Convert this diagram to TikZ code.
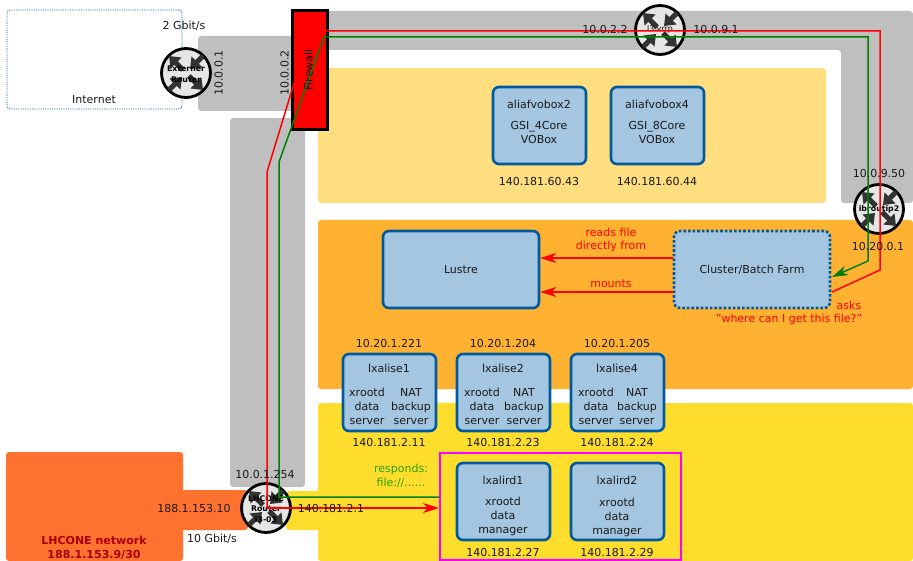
\documentclass[tikz,border=0pt]{standalone}
\usepackage{fontspec}
\setmainfont{DejaVu Sans}
\usetikzlibrary{arrows.meta}
\definecolor{netgray}{HTML}{BFBFBF}
\definecolor{lightyel}{HTML}{FEDE7E}
\definecolor{orng}{HTML}{FFB231}
\definecolor{yel}{HTML}{FFDD2C}
\definecolor{lhc}{HTML}{FF7230}
\definecolor{boxfill}{HTML}{A4C6E0}
\definecolor{boxline}{HTML}{005B9E}
\definecolor{txtcol}{HTML}{1A1A1A}
\definecolor{rtgreen}{HTML}{008000}
\definecolor{respgreen}{HTML}{2CA000}
\definecolor{darkred}{HTML}{AA0000}
\definecolor{pink}{HTML}{FF00FF}
\definecolor{iconfill}{HTML}{E6E6E6}
\definecolor{icondark}{HTML}{333333}
\tikzset{
  zone/.style={rounded corners=3pt,draw=none},
  hostbox/.style={draw=boxline,fill=boxfill,line width=2.6pt,rounded corners=6pt},
  hostdots/.style={hostbox,dash pattern=on 2.6pt off 2pt},
  txt/.style={inner sep=0pt,outer sep=0pt,text=txtcol,font=\fontsize{11}{14}\selectfont,text height=9.5pt,text depth=0.5pt},
  redtxt/.style={txt,text=red},
  grntxt/.style={txt,text=respgreen},
  rtrtxt/.style={inner sep=0pt,text=black,font=\fontsize{7.8}{10.5}\selectfont\bfseries,align=center},
  rtrcirc/.style={circle,draw=black,fill=iconfill,line width=2.8pt,minimum size=49pt,inner sep=0pt},
  iconarrow/.style={draw=icondark,line width=5pt,-{Triangle[length=10pt,width=15pt]}},
  routeR/.style={draw=red,line width=1.5pt},
  routeG/.style={draw=rtgreen,line width=1.5pt},
  flowR/.style={draw=red,line width=2pt,-{Stealth[length=16pt,width=10pt,inset=5pt]}},
  flowG/.style={draw=rtgreen,line width=1.5pt,-{Stealth[length=16pt,width=10pt,inset=5pt]}}
}
\newcommand{\routernode}[2]{%
  \node[rtrcirc] (#1) at (#2) {};
  \draw[iconarrow] (#1.center)++(-3,-3) -- ++(-14,-14);
  \draw[iconarrow] (#1.center)++(17,-17) -- ++(-13,13);
  \draw[iconarrow] (#1.center)++(-17,17) -- ++(13,-13);
  \draw[iconarrow] (#1.center)++(3,3) -- ++(14,14);
}
\begin{document}
\begin{tikzpicture}[x=1pt,y=-1pt]
\useasboundingbox (0,0) rectangle (913,561);
% network zones
\fill[netgray,zone] (198,36) rectangle (300,111);
\fill[netgray,zone] (230,118) rectangle (305,487);
\fill[netgray,zone] (320,11) -- (913,11) -- (913,203) -- (841,203) -- (841,50) -- (320,50) -- cycle;
\fill[lightyel,zone] (318,68) rectangle (826,203);
\fill[orng,zone] (318,220) rectangle (913,389);
\fill[yel,zone] (318,403) rectangle (913,561);
\fill[yel,zone] (286,491) rectangle (330,530);
\fill[lhc,zone] (6,452) rectangle (183,561);
\fill[lhc,zone] (175,490) rectangle (248,530);
% internet
\node[draw=boxline,densely dotted,line width=0.8pt,rounded corners=3pt,minimum width=175pt,minimum height=99pt,inner sep=0pt] (inet) at (94.5,59.5) {};
% routers
\routernode{extr}{186,73}
\routernode{vrrp}{660,30}
\routernode{ibr}{879,209}
\routernode{lhcr}{266,508}
\node[rtrtxt] (extrT) at (186,74) {Externer\\Router};
\node[rtrtxt,font=\fontsize{7.8}{10.5}\selectfont] (vrrpT) at (660,29) {l3-vrrp};
\node[rtrtxt] (ibrT) at (879,209) {ibroutip2};
\node[rtrtxt] (lhcrT) at (266,509) {LHCONE\\Router\\l3-03};
% firewall
\node[draw=black,fill=red,line width=2.8pt,minimum width=35pt,minimum height=119pt,inner sep=0pt] (fw) at (310,70) {};
\node[txt,text=black,rotate=90] (fwT) at (308,70) {Firewall};
% hosts
\node[hostbox,minimum width=93pt,minimum height=77pt] (vb2) at (539.5,125.5) {};
\node[hostbox,minimum width=93pt,minimum height=77pt] (vb4) at (657.5,125.5) {};
\node[hostbox,minimum width=156pt,minimum height=77pt] (lustre) at (461,269.5) {};
\node[hostdots,minimum width=156pt,minimum height=77pt] (farm) at (752,269.5) {};
\node[hostbox,minimum width=93pt,minimum height=77pt] (lx1) at (389.5,392.5) {};
\node[hostbox,minimum width=93pt,minimum height=77pt] (lx2) at (503.5,392.5) {};
\node[hostbox,minimum width=93pt,minimum height=77pt] (lx4) at (617.5,392.5) {};
\node[hostbox,minimum width=93pt,minimum height=77pt] (rd1) at (503.5,501.5) {};
\node[hostbox,minimum width=93pt,minimum height=77pt] (rd2) at (617.5,501.5) {};
\node[draw=pink,line width=2pt,minimum width=241pt,minimum height=107pt,inner sep=0pt] (mgr) at (560.5,506) {};
% host texts
\node[txt] (t1) at (539,104) {aliafvobox2};
\node[txt] (t2) at (539,125) {GSI\_4Core};
\node[txt] (t3) at (539,139) {VOBox};
\node[txt] (t4) at (539,181) {140.181.60.43};
\node[txt] (t5) at (657,104) {aliafvobox4};
\node[txt] (t6) at (657,125) {GSI\_8Core};
\node[txt] (t7) at (657,139) {VOBox};
\node[txt] (t8) at (657,181) {140.181.60.44};
\node[txt] (t9) at (461,269) {Lustre};
\node[txt] (t10) at (752,269) {Cluster/Batch Farm};
\foreach \nm/\cx/\cy/\cz/\ti/\top/\bot in {a/389/367/411/lxalise1/10.20.1.221/140.181.2.11,b/503/482/524/lxalise2/10.20.1.204/140.181.2.23,c/617/596/637/lxalise4/10.20.1.205/140.181.2.24}{
  \node[txt] (\nm ip1) at (\cx,343) {\top};
  \node[txt] (\nm ti) at (\cx,368) {\ti};
  \node[txt] (\nm x) at (\cy,392) {xrootd};
  \node[txt] (\nm d) at (\cy,406) {data};
  \node[txt] (\nm s) at (\cy,420) {server};
  \node[txt] (\nm n) at (\cz,392) {NAT};
  \node[txt] (\nm k) at (\cz,406) {backup};
  \node[txt] (\nm v) at (\cz,420) {server};
  \node[txt] (\nm ip2) at (\cx,442) {\bot};
}
\node[txt] (r1t) at (503,480) {lxalird1};
\node[txt] (r1x) at (503,501) {xrootd};
\node[txt] (r1d) at (503,515) {data};
\node[txt] (r1m) at (503,529) {manager};
\node[txt] (r1i) at (503,552) {140.181.2.27};
\node[txt] (r2t) at (617,480) {lxalird2};
\node[txt] (r2x) at (617,502) {xrootd};
\node[txt] (r2d) at (617,516) {data};
\node[txt] (r2m) at (617,530) {manager};
\node[txt] (r2i) at (617,552) {140.181.2.29};
% route way points
\coordinate (y1) at (0,258);
\coordinate (y2) at (0,292);
\coordinate (farmR) at (832,292);
\coordinate (farmG) at (832,277);
\coordinate (rA) at (880,270);
\coordinate (rB) at (880,31);
\coordinate (rC) at (310,31);
\coordinate (rD) at (267,172);
\coordinate (rE) at (267,508);
\coordinate (gA) at (868,261);
\coordinate (gB) at (868,37);
\coordinate (gC) at (324,37);
\coordinate (gD) at (279,162);
\coordinate (gE) at (279,497);
% connectors
\draw[flowR] (farm.west |- y1) -- (lustre.east |- y1);
\draw[flowR] (farm.west |- y2) -- (lustre.east |- y2);
\draw[flowG] (mgr.west |- gE) -- (gE) -- (gD) -- (gC) -- (gB) -- (gA) -- (farmG);
\draw[routeR] (farmR) -- (rA) -- (rB) -- (rC) -- (rD) -- (rE);
\draw[flowR,line width=1.5pt] (rE) -- (mgr.west |- rE);
% labels
\node[txt] (l1) at (184,25) {2 Gbit/s};
\node[txt] (l2) at (94,99) {Internet};
\node[txt,rotate=90] (l3) at (218,73) {10.0.0.1};
\node[txt,rotate=90] (l4) at (284,73) {10.0.0.2};
\node[txt] (l5) at (605,29) {10.0.2.2};
\node[txt] (l6) at (716,29) {10.0.9.1};
\node[txt] (l7) at (879,173) {10.0.9.50};
\node[txt] (l8) at (878,246) {10.20.0.1};
\node[txt] (l9) at (265,474) {10.0.1.254};
\node[txt] (l10) at (194,508) {188.1.153.10};
\node[txt] (l11) at (331,508) {140.181.2.1};
\node[txt] (l12) at (212,538) {10 Gbit/s};
\node[txt,text=darkred,font=\fontsize{11}{14}\selectfont\bfseries] (l13) at (94,540) {LHCONE network};
\node[txt,text=darkred,font=\fontsize{11}{14}\selectfont\bfseries] (l14) at (94,554) {188.1.153.9/30};
\node[redtxt] (l15) at (611,232) {reads file};
\node[redtxt] (l16) at (611,245) {directly from};
\node[redtxt] (l17) at (611,283) {mounts};
\node[redtxt] (l18) at (849,305) {asks};
\node[redtxt] (l19) at (789,318) {"where can I get this file?"};
\node[grntxt] (l20) at (401,468) {responds:};
\node[grntxt] (l21) at (401,482) {file://......};
\end{tikzpicture}
\end{document}
